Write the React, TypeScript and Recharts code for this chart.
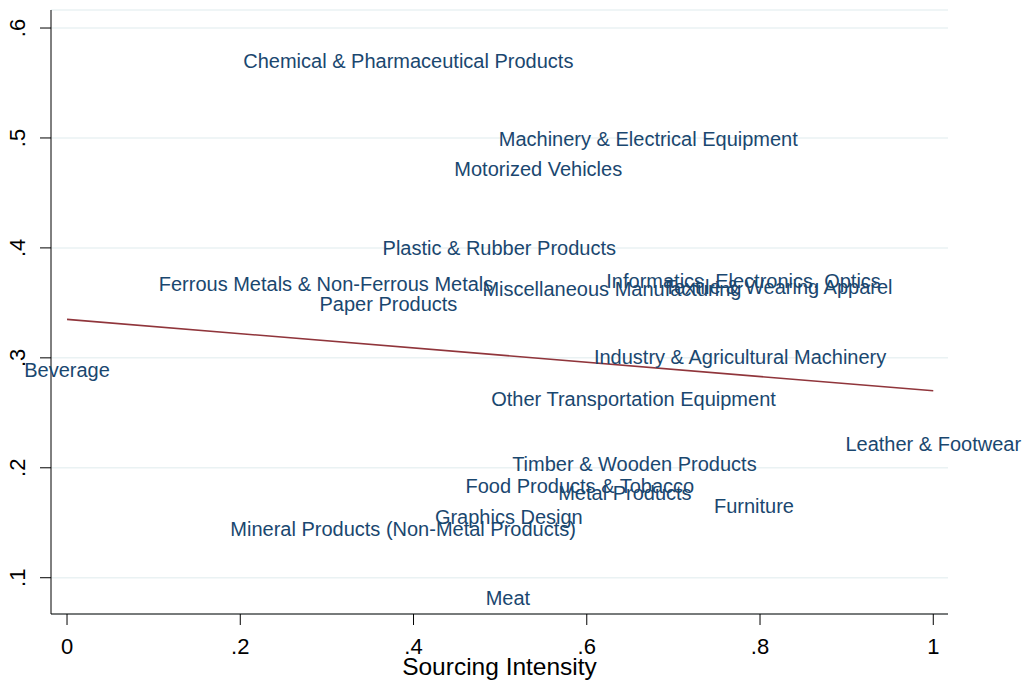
import React from 'react';
import {
  ComposedChart,
  Scatter,
  Line,
  XAxis,
  YAxis,
  CartesianGrid
} from 'recharts';

// industries, x = sourcing intensity, y = outcome share
const industries = [
  'Chemical & Pharmaceutical Products',
  'Machinery & Electrical Equipment',
  'Motorized Vehicles',
  'Plastic & Rubber Products',
  'Ferrous Metals & Non-Ferrous Metals',
  'Paper Products',
  'Miscellaneous Manufacturing',
  'Informatics, Electronics, Optics',
  'Textile & Wearing Apparel',
  'Industry & Agricultural Machinery',
  'Beverage',
  'Other Transportation Equipment',
  'Leather & Footwear',
  'Timber & Wooden Products',
  'Food Products & Tobacco',
  'Metal Products',
  'Furniture',
  'Graphics Design',
  'Mineral Products (Non-Metal Products)',
  'Meat'
];
const sourcingIntensity = [
  0.394, 0.671, 0.544, 0.499, 0.299, 0.371, 0.629, 0.781, 0.821, 0.777,
  0.0, 0.654, 1.0, 0.655, 0.592, 0.644, 0.793, 0.510, 0.388, 0.509
];
const shareValues = [
  0.570, 0.499, 0.472, 0.400, 0.367, 0.349, 0.363, 0.370, 0.364, 0.301,
  0.289, 0.263, 0.222, 0.203, 0.183, 0.177, 0.165, 0.155, 0.144, 0.082
];

// fitted line
const fitX = [0, 1];
const fitY = [0.335, 0.270];

const xTicks = [0, 0.2, 0.4, 0.6, 0.8, 1];
const yTicks = [0.1, 0.2, 0.3, 0.4, 0.5, 0.6];

const points = industries.map((name, i) => ({ name, x: sourcingIntensity[i], y: shareValues[i] }));
const fitData = fitX.map((x, i) => ({ x, fit: fitY[i] }));

const FONT = '"Liberation Sans", Arial, Helvetica, sans-serif';
const fmt = (v: number) => (v === 0 ? '0' : v === 1 ? '1' : String(v).replace(/^0/, ''));

const LabelShape = (props: any) => {
  const { cx, cy, payload } = props;
  return (
    <text x={cx} y={cy} textAnchor="middle" dominantBaseline="central"
      fill="#1a476f" fontSize={20} fontFamily={FONT}>
      {payload.name}
    </text>
  );
};

const YTick = ({ x, y, payload }: any) => (
  <text transform={`translate(${x - 15},${y}) rotate(-90)`} textAnchor="middle"
    fill="#000" fontSize={22} fontFamily={FONT}>
    {fmt(payload.value)}
  </text>
);

const XTick = ({ x, y, payload }: any) => (
  <text x={x} y={y + 29} textAnchor="middle" fill="#000" fontSize={22} fontFamily={FONT}>
    {fmt(payload.value)}
  </text>
);

export default function App() {
  return (
    <div style={{ position: 'absolute', left: 0, top: 0, width: 1024, height: 680, background: '#fff' }}>
      <ComposedChart width={1024} height={680} data={points}
        margin={{ top: 10, right: 76, bottom: 0, left: 0 }}>
        <CartesianGrid horizontal vertical={false} stroke="#eaf2f3" strokeWidth={1.5} />
        <XAxis
          dataKey="x"
          type="number"
          domain={[-0.0185, 1.017]}
          ticks={xTicks}
          height={66}
          tickSize={11}
          tickMargin={0}
          tick={<XTick />}
          stroke="#000"
          label={{ value: 'Sourcing Intensity', position: 'insideBottom', offset: 5, fill: '#000', fontSize: 24.5, fontFamily: FONT }}
        />
        <YAxis
          type="number"
          domain={[0.067, 0.6164]}
          ticks={yTicks}
          width={51}
          tickSize={11}
          tickMargin={0}
          tick={<YTick />}
          stroke="#000"
        />
        <Line data={fitData} dataKey="fit" stroke="#90353b" strokeWidth={1.6} dot={false}
          isAnimationActive={false} />
        <Scatter data={points} dataKey="y" shape={<LabelShape />} isAnimationActive={false} />
      </ComposedChart>
    </div>
  );
}
